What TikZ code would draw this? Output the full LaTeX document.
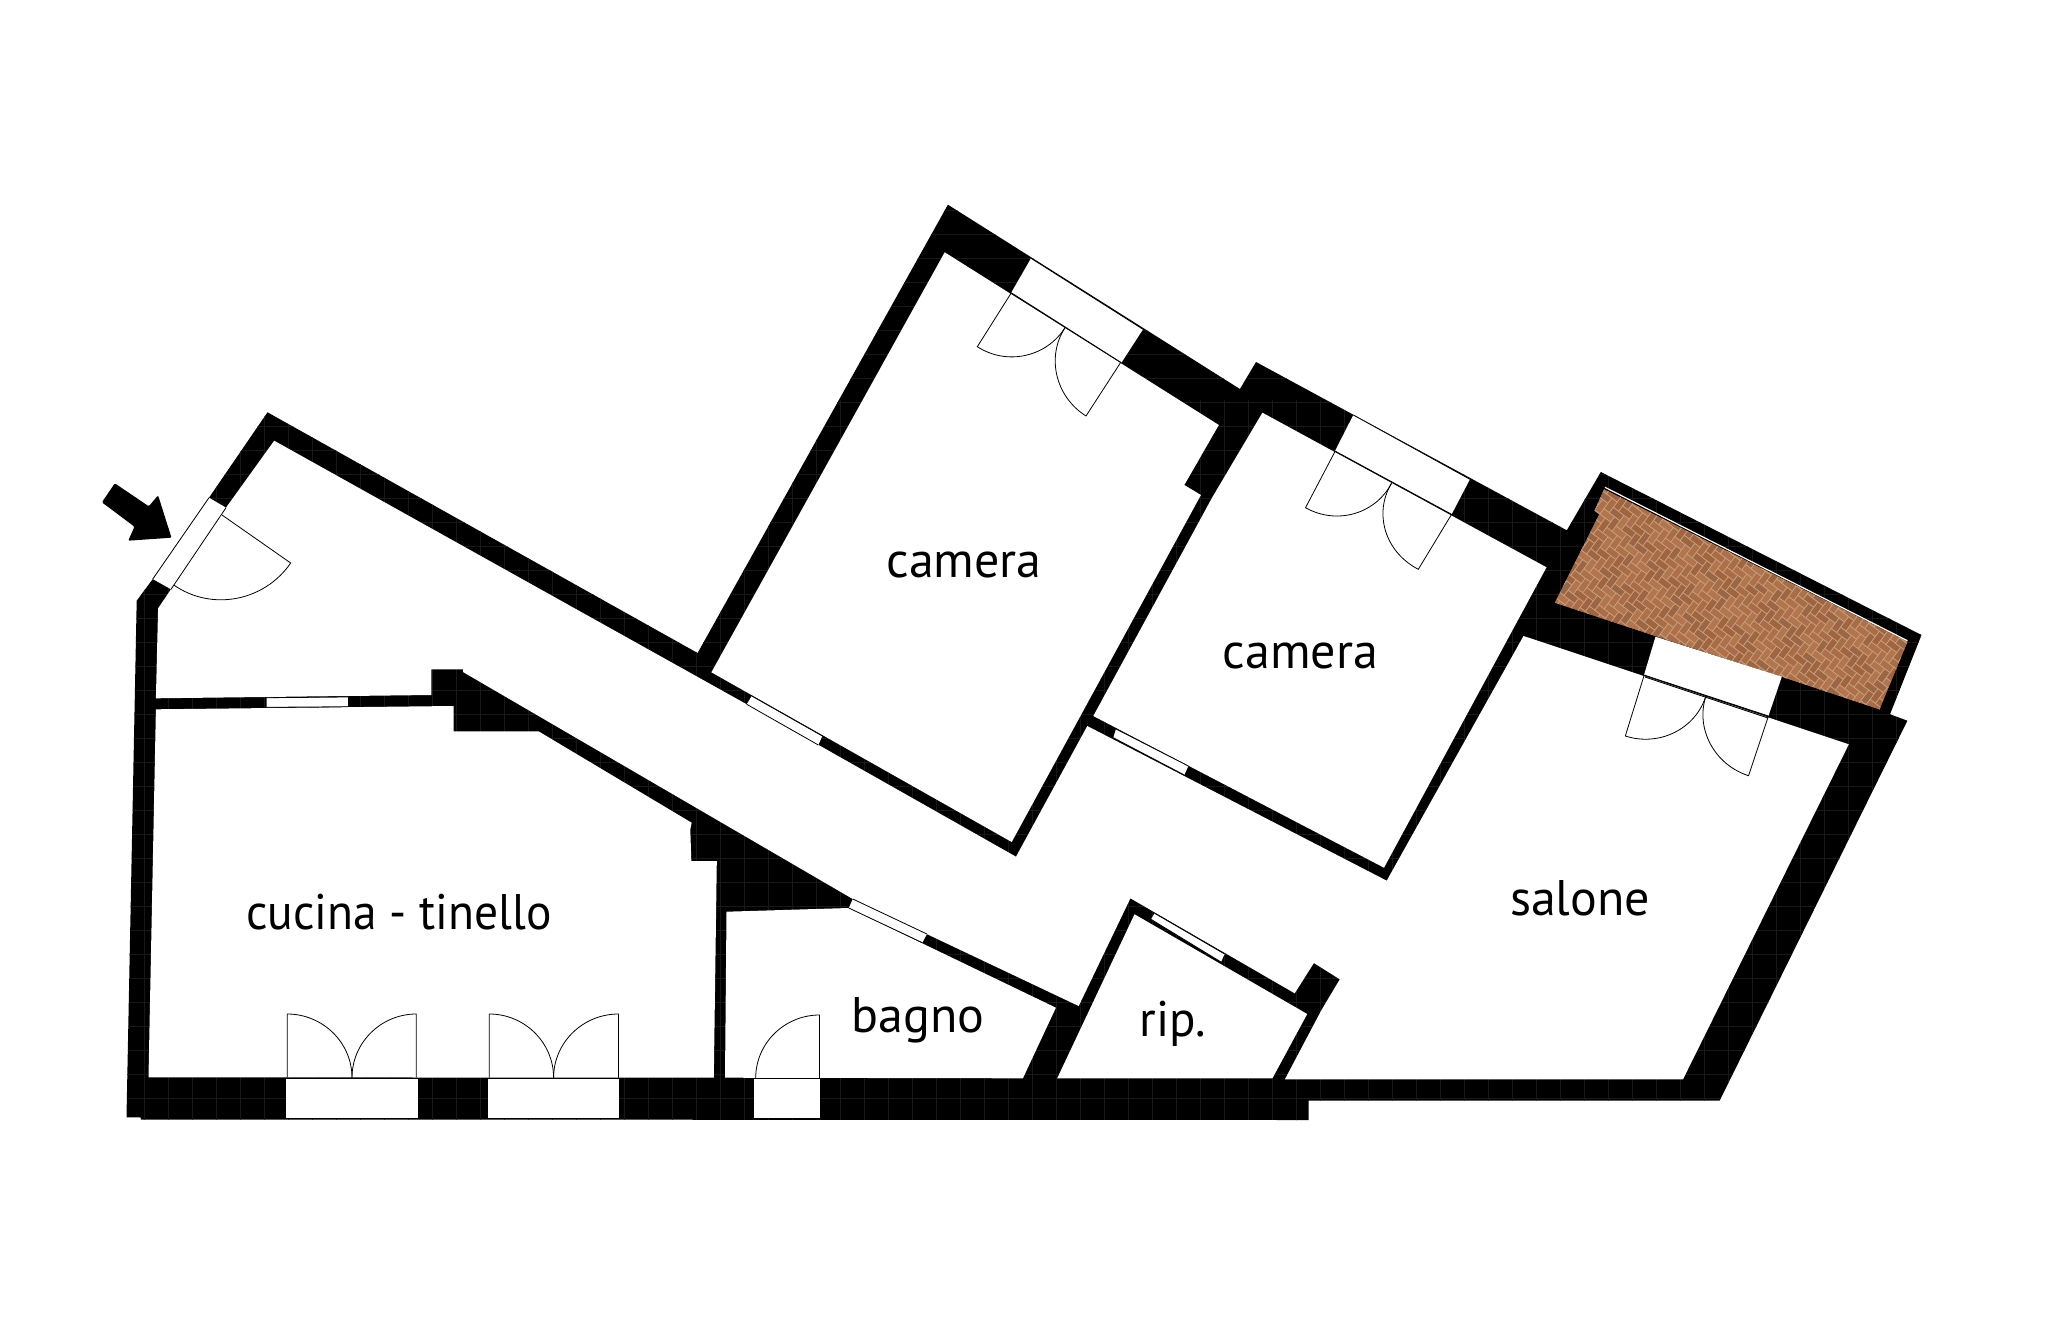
\documentclass[tikz,border=0pt]{standalone}
\usepackage{fontspec}
\setmainfont{PT Sans}
\usetikzlibrary{calc}
\definecolor{brick0}{HTML}{A86C46}
\definecolor{brick1}{HTML}{B2754C}
\definecolor{brick2}{HTML}{A0653F}
\definecolor{brick3}{HTML}{AD7048}
\definecolor{brick4}{HTML}{9C6644}
\definecolor{mortar}{HTML}{C6A080}
\definecolor{gridcol}{HTML}{181818}
\tikzset{
  thinline/.style={draw=black,line width=0.8pt,line join=miter},
  room/.style={fill=white},
  label/.style={anchor=base,inner sep=0pt,font=\fontsize{50}{54}\selectfont,text=black},
}
\newcommand\doorleaf[3]{\draw[thinline] #1 -- #2 .. controls ($#2+0.55*#3-0.55*#1$) and ($#3+0.55*#2-0.55*#1$) .. #3;}
\newcommand\winpoly[4]{\fill[white] #1 -- #2 -- #3 -- #4 -- cycle; \draw[thinline] #1 -- #2; \draw[thinline] #3 -- #4;}
\begin{document}
\begin{tikzpicture}[x=1pt,y=-1pt]
\useasboundingbox (0,0) rectangle (2048,1325);
\fill[white] (0,0) rectangle (2048,1325);
% footprint with faint grid
\def\footprint{(267.5,412.3) -- (697.6,653) -- (947.9,204.7) -- (1239.9,389) -- (1256,362) -- (1566.8,530.3) -- (1600.8,472) -- (1921.5,635) -- (1890,714.3) -- (1907.4,720.7) -- (1719.6,1100.7) -- (1308.6,1100.7) -- (1308.6,1120) -- (140.8,1119.5) -- (140.8,1117.5) -- (126.5,1117.3) -- (136.7,600.7) -- (152.8,579) -- (209,497.7) -- cycle}
\fill[black] \footprint;
\begin{scope}
\clip \footprint;
\foreach \gx in {120,144,...,1920} \draw[gridcol,line width=0.7pt] (\gx,400) -- (\gx,1125);
\foreach \gy in {210,234,...,1122} \draw[gridcol,line width=0.7pt] (120,\gy) -- (1925,\gy);
\end{scope}
% corridor + salone
\fill[room] (274.2,440.7) -- (746.7,704.3) -- (1016,856.7) -- (1087.3,726) -- (1386.7,880.7) -- (1523.5,636) -- (1848.8,744.3) -- (1683,1079.3) -- (1284.9,1079.3) -- (1321.5,1010) -- (1339.8,979.3) -- (1313.9,963) -- (1294.7,993.3) -- (1130.4,898.3) -- (1078.7,1006) -- (852.8,899) -- (463,672) -- (463,669.3) -- (431.3,669.3) -- (431.3,695) -- (155.9,698.3) -- (158.1,608.3) -- (171,589.3) -- (226,507.7) -- cycle;
% camera 1
\fill[room] (944.7,252.3) -- (1218.8,425) -- (1184.3,485) -- (1200.9,495) -- (1011.7,842) -- (711.4,672.3) -- cycle;
% camera 2
\fill[room] (1262.4,412.7) -- (1546.5,567.3) -- (1384,867.7) -- (1093.3,716) -- (1212.3,497.3) -- cycle;
% cucina
\fill[room] (155.9,709.3) -- (453.7,706) -- (453.7,731.3) -- (538.5,731.3) -- (691.6,822.7) -- (690.3,829.3) -- (691.3,861) -- (716.8,861) -- (713.8,1077.7) -- (148.5,1077.3) -- cycle;
% bagno
\fill[room] (726.5,911.7) -- (848.8,908) -- (1055.9,1007.7) -- (1022.9,1078.3) -- (725,1077.7) -- cycle;
% ripostiglio
\fill[room] (1134.5,914.3) -- (1307.2,1014) -- (1272.4,1078.3) -- (1057.2,1078.3) -- cycle;
% balcony paving
\begin{scope}
\clip (1604,489.3) -- (1907.4,641.7) -- (1879.4,709.3) -- (1781.8,676.7) -- (1655.5,636) -- (1554.9,602.7) -- (1599.3,514.3) -- (1594.7,510.7) -- cycle;
\fill[brick0] (1540,470) rectangle (1925,720);
\begin{scope}[shift={(1735,590)},x={(5.35pt,-4.0pt)},y={(4.0pt,5.35pt)}]
\foreach \i in {-28,...,28} \foreach \j in {-14,...,14} {
  \pgfmathtruncatemacro\pa{\i+2*\j}
  \pgfmathtruncatemacro\pb{\i-2*\j}
  \pgfmathtruncatemacro\ca{mod(abs(\i*7+\j*13),5)}
  \pgfmathtruncatemacro\cb{mod(abs(\i*3+\j*11),5)}
  \draw[mortar,line width=0.7pt,fill=brick\ca] (\pa,\pb) -- ++(2,0) -- ++(0,1) -- ++(-2,0) -- cycle;
  \draw[mortar,line width=0.7pt,fill=brick\cb] (\pa+2,\pb-1) -- ++(1,0) -- ++(0,2) -- ++(-1,0) -- cycle;
}
\end{scope}
\end{scope}
\draw[white,line width=1.2pt] (1605,487.3) -- (1907.4,640.7);
% windows
\winpoly{(209,497.7)}{(152.8,579)}{(171,589.3)}{(226,507.7)}
\winpoly{(266.6,697.7)}{(347.9,697)}{(347.9,706.7)}{(266.6,707.3)}
\winpoly{(751.7,696)}{(822.3,736)}{(818.3,745)}{(746.7,704.3)}
\winpoly{(1116,729)}{(1188.3,766)}{(1184.3,775)}{(1113.3,737.7)}
\winpoly{(1031,258.3)}{(1143,329.3)}{(1121.4,362.7)}{(1011.2,292.7)}
\winpoly{(1353.3,415)}{(1469.9,479.3)}{(1451.6,514.3)}{(1335,451)}
\winpoly{(852.8,899)}{(926.9,934)}{(922.4,942.7)}{(848.8,908)}
\winpoly{(1154.6,913.3)}{(1224.6,954)}{(1221,962)}{(1151,919.3)}
\winpoly{(286.2,1118.3)}{(417.9,1118.3)}{(417.9,1078.3)}{(286.2,1078.3)}
\winpoly{(487.8,1118.3)}{(619.4,1118.3)}{(619.4,1078.3)}{(487.8,1078.3)}
\winpoly{(754,1118.3)}{(820.4,1118.3)}{(820.4,1078.3)}{(754,1078.3)}
% salone window
\fill[white] (1655.5,636.7) -- (1781.8,676.7) -- (1768.4,716) -- (1644,675) -- cycle;
\draw[thinline] (1644,675) -- (1768.4,716);
\draw[thinline] (1645,677) -- (1768,718);
% doors
\doorleaf{(222,515)}{(290.7,563)}{(173.8,585)}
\doorleaf{(1011.2,293)}{(977.3,346.7)}{(1065,327.7)}
\doorleaf{(1120.5,362.7)}{(1086,416)}{(1065,327.7)}
\doorleaf{(1335,451.5)}{(1305.5,507.7)}{(1391.5,483.3)}
\doorleaf{(1451.6,514.3)}{(1418.3,569.3)}{(1391.5,483.3)}
\doorleaf{(1644,675.7)}{(1625.3,736)}{(1706,695.7)}
\doorleaf{(1768.4,716)}{(1748.5,775.7)}{(1706,695.7)}
\doorleaf{(287.2,1077.7)}{(287.2,1014)}{(352,1077.7)}
\doorleaf{(416.3,1077.7)}{(416.3,1014)}{(352,1077.7)}
\doorleaf{(489.3,1077.7)}{(489.3,1014)}{(553.6,1077.7)}
\doorleaf{(618.4,1077.7)}{(618.4,1014)}{(553.6,1077.7)}
\doorleaf{(819.5,1078)}{(819.5,1015)}{(755.7,1078)}
% entrance arrow
\fill[black,rounded corners=1.2pt] (114.8,483.3) -- (101.9,502.3) -- (134.5,526.7) -- (128.2,540.7) -- (171.5,537.7) -- (158.1,495.3) -- (148.8,506.3) -- cycle;
% labels
\node[label,xscale=0.95] (cucina) at (399,929.3) {cucina - tinello};
\node[label] (cameraA) at (964.2,577.3) {camera};
\node[label] (cameraB) at (1300.5,668.3) {camera};
\node[label] (bagno) at (918.2,1032.3) {bagno};
\node[label,xscale=0.98] (rip) at (1172.5,1036.7) {rip.};
\node[label] (salone) at (1580,915) {salone};
\end{tikzpicture}
\end{document}
